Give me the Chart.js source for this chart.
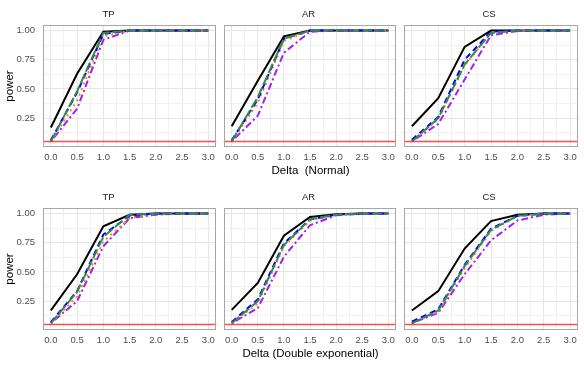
<!DOCTYPE html>
<html>
<head>
<meta charset="utf-8">
<script src="https://cdn.jsdelivr.net/npm/chart.js@4.4.1/dist/chart.umd.min.js"></script>
<style>
  body { margin: 0; background: #fff; }
  #wrap { position: relative; width: 584px; height: 365px; overflow: hidden; }
  canvas { position: absolute; }
  .xtitle {
    position: absolute; left: 43px; width: 535px; text-align: center;
    font-family: 'Liberation Sans', Arial, sans-serif; font-size: 11.5px;
    line-height: 14px; color: #000; white-space: pre;
  }
</style>
</head>
<body>
<div id="wrap">
  <canvas id="c1"></canvas>
  <canvas id="c2"></canvas>
  <canvas id="c3"></canvas>
  <canvas id="c4"></canvas>
  <canvas id="c5"></canvas>
  <canvas id="c6"></canvas>
  <div class="xtitle" style="top:163px">Delta  (Normal)</div>
  <div class="xtitle" style="top:346px">Delta (Double exponential)</div>
</div>
<script>
// data
const deltaValues = [0, 0.5, 1, 1.5, 2, 2.5, 3];
const seriesNames = ['S1', 'S2', 'S3', 'S4', 'S5'];
const alphaLevel = 0.05;
const xTicks = ['0.0', '0.5', '1.0', '1.5', '2.0', '2.5', '3.0'];
const yTicks = ['0.25', '0.50', '0.75', '1.00'];

// each panel: [black, blue, orange, purple, green]
const tpNormal = [
    [0.17, 0.63, 0.99, 1, 1, 1, 1],
    [0.06, 0.47, 0.97, 1, 1, 1, 1],
    [0.05, 0.40, 0.95, 1, 1, 1, 1],
    [0.05, 0.33, 0.92, 1, 1, 1, 1],
    [0.05, 0.48, 0.98, 1, 1, 1, 1]
];
const arNormal = [
    [0.18, 0.57, 0.95, 1, 1, 1, 1],
    [0.06, 0.41, 0.93, 1, 1, 1, 1],
    [0.05, 0.38, 0.91, 1, 1, 1, 1],
    [0.05, 0.27, 0.81, 0.99, 1, 1, 1],
    [0.05, 0.43, 0.93, 1, 1, 1, 1]
];
const csNormal = [
    [0.18, 0.42, 0.86, 1, 1, 1, 1],
    [0.065, 0.26, 0.75, 0.99, 1, 1, 1],
    [0.05, 0.24, 0.70, 0.98, 1, 1, 1],
    [0.05, 0.20, 0.58, 0.96, 0.995, 1, 1],
    [0.05, 0.25, 0.71, 0.98, 1, 1, 1]
];
const tpDouble = [
    [0.17, 0.48, 0.89, 0.99, 1, 1, 1],
    [0.07, 0.335, 0.82, 0.98, 1, 1, 1],
    [0.06, 0.29, 0.76, 0.96, 1, 1, 1],
    [0.06, 0.25, 0.72, 0.96, 0.99, 1, 1],
    [0.06, 0.33, 0.80, 0.99, 1, 1, 1]
];
const arDouble = [
    [0.175, 0.405, 0.81, 0.97, 0.995, 1, 1],
    [0.07, 0.265, 0.745, 0.95, 0.99, 1, 1],
    [0.06, 0.23, 0.72, 0.94, 0.99, 1, 1],
    [0.06, 0.19, 0.63, 0.90, 0.985, 1, 1],
    [0.06, 0.25, 0.73, 0.95, 0.99, 1, 1]
];
const csDouble = [
    [0.17, 0.335, 0.70, 0.935, 0.99, 1, 1],
    [0.075, 0.18, 0.56, 0.87, 0.98, 1, 1],
    [0.06, 0.16, 0.53, 0.85, 0.98, 1, 1],
    [0.06, 0.15, 0.48, 0.77, 0.94, 0.99, 1],
    [0.06, 0.17, 0.55, 0.86, 0.98, 1, 1]
];

const fontFamily = "'Liberation Sans', Arial, sans-serif";

// line look per series, lower order is drawn on top
const seriesStyles = [
    { color: '#000000', dash: [], order: 5 },
    { color: '#0000ff', dash: [6, 4], order: 2 },
    { color: '#ff8c00', dash: [2, 4], order: 3 },
    { color: '#a020f0', dash: [2, 3, 7, 3], order: 4 },
    { color: '#2e8b57', dash: [10, 3], order: 1 }
];

// panel border + red reference line
const panelExtras = {
    id: 'panelExtras',
    afterDatasetsDraw(chart) {
        const { ctx, chartArea, scales } = chart;
        const y = scales.y.getPixelForValue(alphaLevel);
        ctx.save();
        ctx.strokeStyle = 'rgba(255, 30, 30, 0.8)';
        ctx.lineWidth = 1.5;
        ctx.beginPath();
        ctx.moveTo(chartArea.left, y);
        ctx.lineTo(chartArea.right, y);
        ctx.stroke();
        ctx.restore();
    },
    afterDraw(chart) {
        const { ctx, chartArea } = chart;
        ctx.save();
        ctx.strokeStyle = '#a6a6a6';
        ctx.lineWidth = 1;
        ctx.strokeRect(Math.round(chartArea.left) + 0.5, Math.round(chartArea.top) + 0.5,
            Math.round(chartArea.right - chartArea.left) - 1, Math.round(chartArea.bottom - chartArea.top) - 1);
        ctx.restore();
    }
};

function isXMajor(v) { return xTicks.indexOf(v.toFixed(1)) >= 0 && Math.round(v * 4) % 2 === 0; }
function isYMajor(v) { return yTicks.indexOf(v.toFixed(2)) >= 0 && Math.round(v * 8) % 2 === 0; }

function makePanel(id, box, title, series, showY) {
    const canvas = document.getElementById(id);
    canvas.width = box.w;
    canvas.height = box.h;
    canvas.style.left = box.left + 'px';
    canvas.style.top = box.top + 'px';

    return new Chart(canvas, {
        type: 'line',
        data: {
            datasets: series.map((vals, i) => ({
                label: seriesNames[i],
                data: deltaValues.map((d, j) => ({ x: d, y: vals[j] })),
                borderColor: seriesStyles[i].color,
                borderDash: seriesStyles[i].dash,
                borderWidth: 2,
                borderCapStyle: 'butt',
                pointRadius: 0,
                fill: false,
                tension: 0,
                order: seriesStyles[i].order
            }))
        },
        options: {
            responsive: false,
            animation: false,
            events: [],
            layout: { padding: { left: 0, right: box.padRight, top: 0, bottom: 0 } },
            plugins: {
                legend: { display: false },
                tooltip: { enabled: false },
                title: {
                    display: true,
                    text: title,
                    color: '#1a1a1a',
                    font: { family: fontFamily, size: 9.5, weight: 'normal' },
                    padding: { top: 9, bottom: 4.6 }
                }
            },
            scales: {
                x: {
                    type: 'linear',
                    min: -0.15,
                    max: 3.15,
                    afterFit: s => { s.height = 18; },
                    border: { display: false },
                    grid: {
                        drawTicks: false,
                        color: c => isXMajor(c.tick.value) ? '#e6e6e6' : '#f1f1f1',
                        lineWidth: 1
                    },
                    ticks: {
                        stepSize: 0.25,
                        includeBounds: false,
                        autoSkip: false,
                        maxRotation: 0,
                        padding: 5,
                        color: '#4d4d4d',
                        font: { family: fontFamily, size: 9.5 },
                        callback: v => isXMajor(v) ? v.toFixed(1) : ''
                    }
                },
                y: {
                    min: 0.0025,
                    max: 1.0475,
                    afterFit: s => { s.width = box.yW; },
                    border: { display: false },
                    grid: {
                        drawTicks: false,
                        color: c => isYMajor(c.tick.value) ? '#e6e6e6' : '#f1f1f1',
                        lineWidth: 1
                    },
                    ticks: {
                        display: showY,
                        stepSize: 0.125,
                        includeBounds: false,
                        autoSkip: false,
                        padding: 8,
                        color: '#4d4d4d',
                        font: { family: fontFamily, size: 9.5 },
                        callback: v => isYMajor(v) ? v.toFixed(2) : ''
                    },
                    title: {
                        display: showY,
                        text: 'power',
                        color: '#000',
                        font: { family: fontFamily, size: 11.5 },
                        padding: { top: 3, bottom: 0 }
                    }
                }
            }
        },
        plugins: [panelExtras]
    });
}

// canvas boxes for the 2 x 3 facet grid
const col1 = { left: 0, w: 220, yW: 43, padRight: 3 };
const col2 = { left: 220, w: 180, yW: 3, padRight: 3 };
const col3 = { left: 400, w: 184, yW: 4, padRight: 6 };
const rowTops = [0, 183];

makePanel('c1', { ...col1, top: rowTops[0], h: 165 }, 'TP', tpNormal, true);
makePanel('c2', { ...col2, top: rowTops[0], h: 165 }, 'AR', arNormal, false);
makePanel('c3', { ...col3, top: rowTops[0], h: 165 }, 'CS', csNormal, false);
makePanel('c4', { ...col1, top: rowTops[1], h: 165 }, 'TP', tpDouble, true);
makePanel('c5', { ...col2, top: rowTops[1], h: 165 }, 'AR', arDouble, false);
makePanel('c6', { ...col3, top: rowTops[1], h: 165 }, 'CS', csDouble, false);
</script>
</body>
</html>
